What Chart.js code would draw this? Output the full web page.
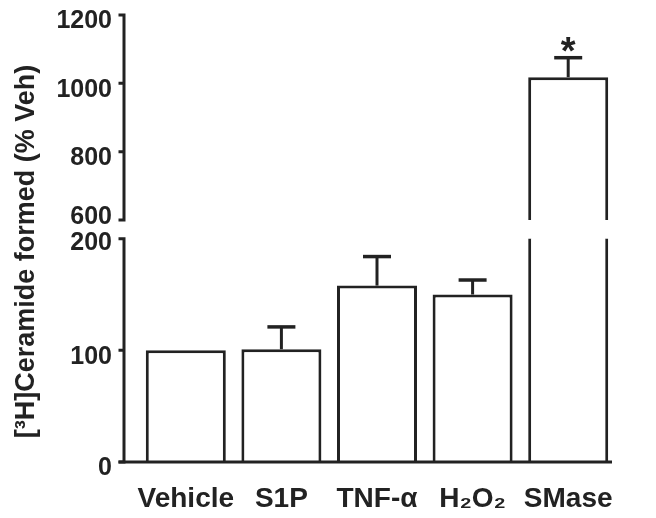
<!DOCTYPE html>
<html>
<head>
<meta charset="utf-8">
<script src="https://cdn.jsdelivr.net/npm/chart.js@4.4.1/dist/chart.umd.min.js"></script>
<style>
  html, body { margin: 0; padding: 0; background: #fff; }
  #wrap { position: relative; width: 656px; height: 518px; }
  #wrap canvas { position: absolute; left: 0; top: 0; }
</style>
</head>
<body>
<div id="wrap">
  <canvas id="lower" width="656" height="518"></canvas>
  <canvas id="upper" width="656" height="518"></canvas>
</div>
<script>
// datos
const categories = ['Vehicle', 'S1P', 'TNF-α', 'H₂O₂', 'SMase'];
const means = [100, 101, 158, 150, 1018];
const errors = [0, 20, 26, 13, 57];
const stars = ['', '', '', '', '*'];
const lowerTicks = [0, 100, 200];
const upperTicks = [600, 800, 1000, 1200];
const yTitle = '[³H]Ceramide formed (% Veh)';

const INK = '#222';
const FONT = "'Liberation Sans', Arial, sans-serif";
Chart.defaults.color = INK;
Chart.defaults.font.family = FONT;
Chart.defaults.font.weight = 'bold';

// ajuste fino de etiquetas junto al corte del eje
const labelNudge = { 600: -9.5, 200: -2 };

// ejes, barras de error, asterisco y titulo del eje y
const extras = {
  id: 'extras',
  beforeDraw(chart) {
    const y = chart.scales.y;
    const items = y.getLabelItems(chart.chartArea);
    items.forEach((it, i) => {
      const v = y.ticks[i] && y.ticks[i].value;
      if (labelNudge[v] && !it._nudged) {
        it.options.translation[1] += labelNudge[v];
        it._nudged = true;
      }
    });
  },
  afterDatasetsDraw(chart) {
    const ctx = chart.ctx;
    const y = chart.scales.y;
    const meta = chart.getDatasetMeta(0);
    const area = chart.chartArea;
    const axisX = area.left - 14;
    const isLower = chart.canvas.id === 'lower';

    ctx.save();
    ctx.strokeStyle = INK;
    ctx.fillStyle = INK;
    ctx.lineWidth = 3;

    // eje y
    ctx.beginPath();
    ctx.moveTo(axisX, y.getPixelForValue(y.max));
    ctx.lineTo(axisX, y.getPixelForValue(y.min));
    y.ticks.forEach(t => {
      const py = y.getPixelForValue(t.value);
      ctx.moveTo(axisX - 5.5, py);
      ctx.lineTo(axisX + 1.5, py);
    });
    ctx.stroke();

    // eje x
    if (isLower) {
      const py = y.getPixelForValue(0);
      ctx.beginPath();
      ctx.moveTo(axisX - 5.5, py);
      ctx.lineTo(area.right - 4, py);
      ctx.stroke();
    }

    // barras de error
    means.forEach((v, i) => {
      const e = errors[i];
      if (v < y.min || v > y.max) return;
      const px = meta.data[i].x;
      const top = y.getPixelForValue(v + e);
      if (e) {
        ctx.lineWidth = 3;
        ctx.beginPath();
        ctx.moveTo(px, y.getPixelForValue(v));
        ctx.lineTo(px, top);
        ctx.stroke();
        ctx.lineWidth = 3.5;
        ctx.beginPath();
        ctx.moveTo(px - 14, top);
        ctx.lineTo(px + 14, top);
        ctx.stroke();
      }
      if (stars[i]) {
        ctx.font = 'bold 38px ' + FONT;
        ctx.textAlign = 'center';
        ctx.textBaseline = 'alphabetic';
        ctx.fillText(stars[i], px, top + 6);
      }
    });

    if (isLower) {
      ctx.translate(34, 251.5);
      ctx.rotate(-Math.PI / 2);
      ctx.font = 'bold 27px ' + FONT;
      ctx.textAlign = 'center';
      ctx.textBaseline = 'alphabetic';
      ctx.fillText(yTitle, 0, 0);
    }
    ctx.restore();
  }
};

function yScale(ticks) {
  return {
    min: ticks[0],
    max: ticks[ticks.length - 1],
    afterBuildTicks: s => { s.ticks = ticks.map(v => ({ value: v })); },
    grid: { display: false, drawTicks: false },
    border: { display: false },
    ticks: {
      padding: 26,
      labelOffset: 6.5,
      font: { size: 25, weight: 'bold' },
      callback: v => String(v)
    },
    afterFit: s => {
      s.width = 138;
      s.paddingTop = 0;
      s.paddingBottom = 0;
    }
  };
}

function barData() {
  return {
    labels: categories,
    datasets: [{
      data: means,
      backgroundColor: '#fff',
      borderColor: INK,
      borderWidth: 3,
      barPercentage: 0.837,
      categoryPercentage: 1,
      clip: 0
    }]
  };
}

const commonPlugins = { legend: { display: false }, tooltip: { enabled: false } };

new Chart(document.getElementById('lower'), {
  type: 'bar',
  data: barData(),
  options: {
    responsive: false,
    animation: false,
    layout: { padding: { left: 0, right: 40, top: 238.7, bottom: 0 } },
    plugins: commonPlugins,
    scales: {
      x: {
        grid: { display: false, drawTicks: false },
        border: { display: false },
        ticks: { autoSkip: false, maxRotation: 0, padding: 20, font: { size: 28, weight: 'bold' } },
        afterFit: s => { s.height = 56; }
      },
      y: yScale(lowerTicks)
    }
  },
  plugins: [extras]
});

new Chart(document.getElementById('upper'), {
  type: 'bar',
  data: barData(),
  options: {
    responsive: false,
    animation: false,
    layout: { padding: { left: 0, right: 40, top: 15, bottom: 298 } },
    plugins: commonPlugins,
    scales: {
      x: { display: false },
      y: yScale(upperTicks)
    }
  },
  plugins: [extras]
});
</script>
</body>
</html>
